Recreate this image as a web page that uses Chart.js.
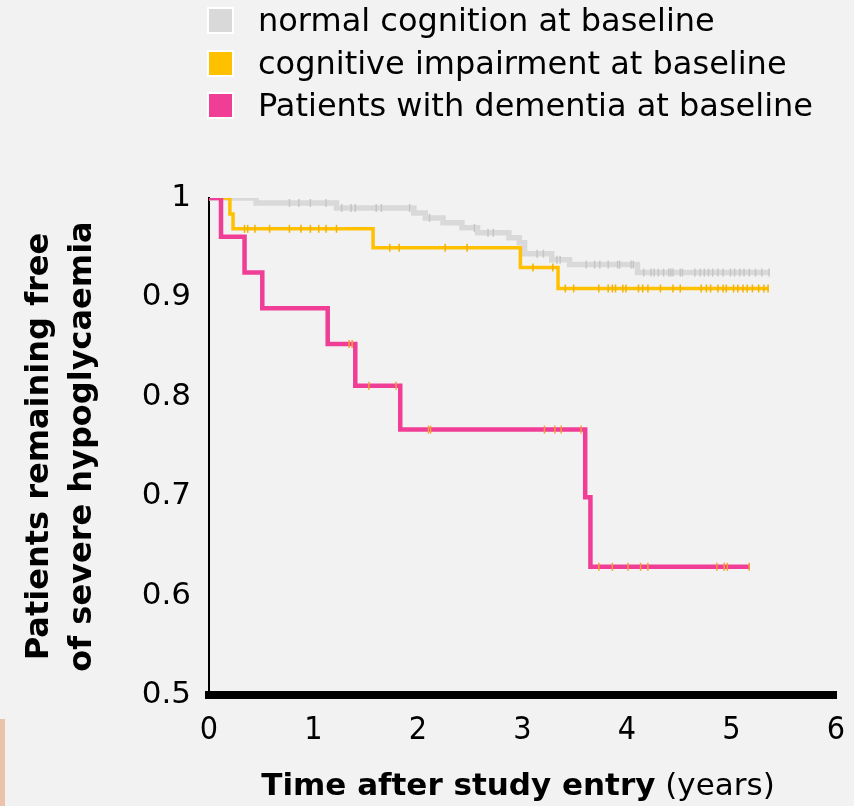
<!DOCTYPE html>
<html lang="en">
<head>
  <meta charset="UTF-8" />
  <title>Severe hypoglycaemia by cognition at baseline</title>
  <script src="https://cdn.jsdelivr.net/npm/chart.js"></script>
  <style>
    body { margin: 0; background: #f2f2f2; }
    #wrap { position: relative; width: 854px; height: 806px; overflow: hidden; background: #f2f2f2; }
    #chart { position: absolute; left: 0; top: 0; }
    .legend { position: absolute; left: 207px; top: 7px; font-family: "DejaVu Sans", sans-serif; font-size: 32px; color: #000; }
    .legend div { height: 42.7px; display: flex; align-items: flex-start; }
    .legend span.box { width: 23px; height: 23px; border: 2.5px solid #fff; margin-right: 24px; }
    .legend span.txt { line-height: 27px; }
    #xtitle { position: absolute; left: 0; width: 1036px; top: 766px; text-align: center; font-family: "DejaVu Sans", sans-serif; font-size: 31px; color: #000; }
    #peach { position: absolute; left: 0; top: 719px; width: 5px; height: 87px; background: #ebc3a9; }
  </style>
</head>
<body>
  <div id="wrap">
    <canvas id="chart" width="854" height="806"></canvas>
    <div class="legend">
      <div><span class="box" style="background:#d9d9d9"></span><span class="txt">normal cognition at baseline</span></div>
      <div><span class="box" style="background:#ffc000"></span><span class="txt">cognitive impairment at baseline</span></div>
      <div><span class="box" style="background:#f03e96"></span><span class="txt">Patients with dementia at baseline</span></div>
    </div>
    <div id="xtitle"><b>Time after study entry</b> (years)</div>
    <div id="peach"></div>
  </div>
  <script>
    // Kaplan-Meier steps: time (years) of each drop and survival after it
    const normalTimes = [0, 0.45, 1.22, 1.96, 2.07, 2.24, 2.42, 2.57, 2.87, 2.97, 3.02, 3.28, 3.45, 4.10];
    const normalSurv  = [1, 0.995, 0.990, 0.985, 0.980, 0.975, 0.970, 0.965, 0.960, 0.955, 0.944, 0.938, 0.933, 0.925];
    const normalCensor = [0.77, 0.86, 0.97, 1.12, 1.27, 1.36, 1.40, 1.60, 1.65, 1.92, 2.11, 2.54, 2.67, 2.72,
      3.14, 3.20, 3.33, 3.36, 3.61, 3.69, 3.74, 3.82, 3.91, 3.93, 4.04, 4.06, 4.16, 4.23, 4.26, 4.30, 4.35,
      4.40, 4.42, 4.44, 4.51, 4.53, 4.65, 4.70, 4.74, 4.78, 4.82, 4.87, 4.92, 4.99, 5.03, 5.08, 5.12, 5.17,
      5.23, 5.29, 5.36];

    const cogTimes = [0, 0.20, 0.23, 1.57, 2.98, 3.34];
    const cogSurv  = [1, 0.984, 0.969, 0.950, 0.930, 0.909];
    const cogCensor = [0.34, 0.37, 0.44, 0.58, 0.77, 0.88, 0.97, 1.05, 1.12, 1.22, 1.73, 1.82, 2.26, 2.47,
      3.10, 3.29, 3.41, 3.49, 3.73, 3.82, 3.86, 3.89, 3.96, 3.99, 4.11, 4.15, 4.20, 4.32, 4.44, 4.51, 4.71,
      4.76, 4.80, 4.87, 4.92, 4.95, 5.02, 5.06, 5.11, 5.15, 5.20, 5.26, 5.31, 5.35];

    const demTimes = [0, 0.115, 0.34, 0.51, 1.136, 1.40, 1.83, 3.60, 3.65];
    const demSurv  = [1, 0.961, 0.925, 0.889, 0.853, 0.811, 0.767, 0.699, 0.629];
    const demCensor = [1.34, 1.37, 1.53, 1.79, 2.10, 2.12, 3.21, 3.31, 3.37, 3.56, 3.73, 3.86, 4.01, 4.13,
      4.20, 4.86, 4.93, 4.96, 5.17];

    const xTicks = [0, 1, 2, 3, 4, 5, 6];
    const yTicks = [0.5, 0.6, 0.7, 0.8, 0.9, 1];

    // survival value at time t (step function)
    function survAt(times, surv, t) {
      let s = surv[0];
      for (let i = 0; i < times.length; i++) if (times[i] <= t) s = surv[i];
      return s;
    }
    function stepLine(times, surv, censor) {
      const pts = times.map((t, i) => ({x: t, y: surv[i]}));
      const end = censor[censor.length - 1];
      pts.push({x: end, y: survAt(times, surv, end)});
      return pts;
    }
    function censorPts(times, surv, censor) {
      return censor.map(t => ({x: t, y: survAt(times, surv, t)}));
    }

    // 'before' in chart.js = go across first, then drop
    const lineDs = (label, data, color, w, order) => ({
      label, data, borderColor: color, backgroundColor: color, borderWidth: w,
      stepped: 'before', pointRadius: 0, fill: false, order
    });
    const tickDs = (label, data, color, order) => ({
      label, data, showLine: false, pointStyle: 'line', rotation: 90, pointRadius: 4,
      pointBorderColor: color, pointBorderWidth: 1.5, order
    });

    new Chart(document.getElementById('chart'), {
      type: 'line',
      data: {
        datasets: [
          tickDs('dem censored', censorPts(demTimes, demSurv, demCensor), '#f5a033', 0),
          lineDs('Patients with dementia at baseline', stepLine(demTimes, demSurv, demCensor), '#f03e96', 4.5, 1),
          tickDs('cog censored', censorPts(cogTimes, cogSurv, cogCensor), '#f2b200', 2),
          lineDs('cognitive impairment at baseline', stepLine(cogTimes, cogSurv, cogCensor), '#ffc000', 3.5, 3),
          tickDs('normal censored', censorPts(normalTimes, normalSurv, normalCensor), '#c6c6c6', 4),
          lineDs('normal cognition at baseline', stepLine(normalTimes, normalSurv, normalCensor), '#d9d9d9', 5.5, 5)
        ]
      },
      options: {
        responsive: false,
        animation: false,
        layout: { padding: { top: 198, right: 18, left: 0, bottom: 0 } },
        plugins: { legend: { display: false }, tooltip: { enabled: false } },
        scales: {
          x: {
            type: 'linear', min: 0, max: 6,
            afterBuildTicks: s => { s.ticks = xTicks.map(v => ({value: v})); },
            afterFit: s => { s.height = 111; },
            grid: { display: false },
            border: { display: true, color: '#000', width: 8 },
            ticks: { color: '#000', padding: 8, maxRotation: 0,
              font: { family: '"DejaVu Sans Condensed", "DejaVu Sans", sans-serif', size: 32 } }
          },
          y: {
            type: 'linear', min: 0.5, max: 1,
            afterBuildTicks: s => { s.ticks = yTicks.map(v => ({value: v})); },
            afterFit: s => { s.width = 209; },
            grid: { display: false },
            border: { display: true, color: '#000', width: 2 },
            ticks: { color: '#000', padding: 10,
              callback: v => String(Math.round(v * 10) / 10),
              font: { family: '"DejaVu Sans", sans-serif', size: 31 } },
            title: {
              display: true,
              text: ['Patients remaining free', 'of severe hypoglycaemia'],
              color: '#000',
              padding: { top: 18, bottom: 0 },
              font: { family: '"DejaVu Sans", sans-serif', size: 32, weight: 'bold', lineHeight: 1.34 }
            }
          }
        }
      }
    });
  </script>
</body>
</html>
